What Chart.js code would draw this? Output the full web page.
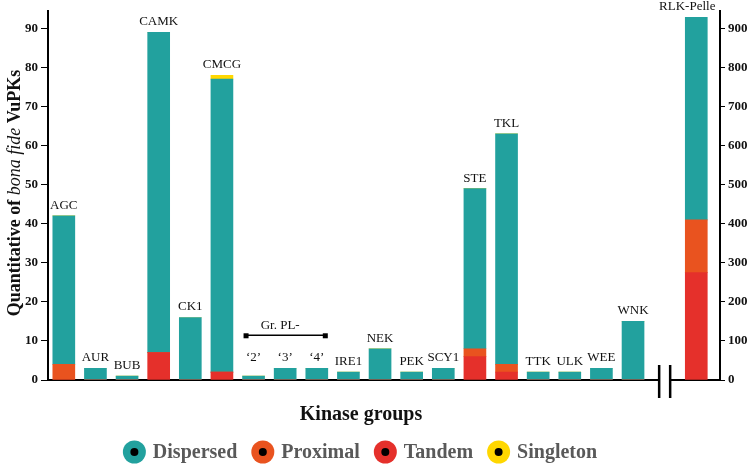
<!DOCTYPE html>
<html>
<head>
<meta charset="utf-8">
<script src="https://cdn.jsdelivr.net/npm/chart.js@4"></script>
<style>
  html, body { margin: 0; padding: 0; background: #fff; }
  #wrap { width: 751px; height: 468px; }
</style>
</head>
<body>
<div id="wrap"><canvas id="kinaseChart"></canvas></div>
<script>
// Grupos de quinasas (eje izquierdo)
const groups = ['AGC', 'AUR', 'BUB', 'CAMK', 'CK1', 'CMCG', '\u20182\u2019', '\u20183\u2019', '\u20184\u2019', 'IRE1',
  'NEK', 'PEK', 'SCY1', 'STE', 'TKL', 'TTK', 'ULK', 'WEE', 'WNK'];
const tandem    = [0, 0, 0, 7, 0, 2, 0, 0, 0, 0, 0, 0, 0, 6, 2, 0, 0, 0, 0];
const proximal  = [4, 0, 0, 0, 0, 0, 0, 0, 0, 0, 0, 0, 0, 2, 2, 0, 0, 0, 0];
const dispersed = [38, 3, 1, 82, 16, 75, 1, 3, 3, 2, 8, 2, 3, 41, 59, 2, 2, 3, 15];
const singleton = [0, 0, 0, 0, 0, 1, 0, 0, 0, 0, 0, 0, 0, 0, 0, 0, 0, 0, 0];

// RLK-Pelle (eje derecho)
const rlkLabel = 'RLK-Pelle';
const rlkTandem = 275;
const rlkProximal = 135;
const rlkDispersed = 518;

const leftTicks = [0, 10, 20, 30, 40, 50, 60, 70, 80, 90];
const rightTicks = [0, 100, 200, 300, 400, 500, 600, 700, 800, 900];

const seriesNames = ['Dispersed', 'Proximal', 'Tandem', 'Singleton'];
const colors = {
  Dispersed: '#22A19E',
  Proximal: '#E9531F',
  Tandem: '#E5302B',
  Singleton: '#FFD700'
};

const rlkIndex = groups.length + 1; // deja un hueco para el corte del eje
const breakIndex = groups.length;

const serif = "'Liberation Serif', 'Times New Roman', serif";

function toPoints(arr) {
  return arr.map((v, i) => ({ x: i, y: v }));
}

function ds(label, arr, axis) {
  return {
    label: label,
    data: arr,
    backgroundColor: colors[label],
    borderWidth: 0,
    barThickness: 22,
    grouped: false,
    yAxisID: axis,
    stack: axis
  };
}

const datasets = [
  ds('Tandem', toPoints(tandem), 'y'),
  ds('Proximal', toPoints(proximal), 'y'),
  ds('Dispersed', toPoints(dispersed), 'y'),
  ds('Singleton', toPoints(singleton), 'y'),
  ds('Tandem', [{ x: rlkIndex, y: rlkTandem }], 'y1'),
  ds('Proximal', [{ x: rlkIndex, y: rlkProximal }], 'y1'),
  ds('Dispersed', [{ x: rlkIndex, y: rlkDispersed }], 'y1')
];

// Textos, corchete, corte del eje, títulos y leyenda
const overlay = {
  id: 'overlay',
  afterDatasetsDraw(chart) {
    const ctx = chart.ctx;
    const xs = chart.scales.x, ys = chart.scales.y, y1 = chart.scales.y1;
    const area = chart.chartArea;
    ctx.save();
    ctx.fillStyle = '#111';
    ctx.font = '13px ' + serif;
    ctx.textAlign = 'center';
    ctx.textBaseline = 'alphabetic';

    // posición del texto de los grupos entre comillas (alineados)
    let quoteTop = Infinity;
    groups.forEach((g, i) => {
      if (g.startsWith('\u2018')) {
        const tot = tandem[i] + proximal[i] + dispersed[i] + singleton[i];
        quoteTop = Math.min(quoteTop, ys.getPixelForValue(tot));
      }
    });

    groups.forEach((g, i) => {
      const tot = tandem[i] + proximal[i] + dispersed[i] + singleton[i];
      let top = ys.getPixelForValue(tot);
      if (g.startsWith('\u2018')) top = quoteTop;
      ctx.fillText(g, xs.getPixelForValue(i), top - 7);
    });
    const rlkTop = y1.getPixelForValue(rlkTandem + rlkProximal + rlkDispersed);
    ctx.fillText(rlkLabel, xs.getPixelForValue(rlkIndex) - 9, rlkTop - 7);

    // corchete Gr. PL-
    const qIdx = groups.map((g, i) => g.startsWith('\u2018') ? i : -1).filter(i => i >= 0);
    const bx0 = xs.getPixelForValue(qIdx[0]) - 8;
    const bx1 = xs.getPixelForValue(qIdx[qIdx.length - 1]) + 8;
    const by = quoteTop - 33;
    ctx.strokeStyle = '#000';
    ctx.lineWidth = 1.5;
    ctx.beginPath();
    ctx.moveTo(bx0, by);
    ctx.lineTo(bx1, by);
    ctx.stroke();
    ctx.fillStyle = '#000';
    ctx.fillRect(bx0 - 2, by - 2, 5, 5);
    ctx.fillRect(bx1 - 2, by - 2, 5, 5);
    ctx.fillStyle = '#111';
    ctx.fillText('Gr. PL-', (bx0 + bx1) / 2 - 5, by - 6);

    // corte del eje x
    const cx = xs.getPixelForValue(breakIndex);
    ctx.fillStyle = '#fff';
    ctx.fillRect(cx - 5, area.bottom - 3, 10, 6);
    ctx.strokeStyle = '#000';
    ctx.lineWidth = 2.5;
    [cx - 5.5, cx + 5.5].forEach(px => {
      ctx.beginPath();
      ctx.moveTo(px, area.bottom - 15);
      ctx.lineTo(px, area.bottom + 18);
      ctx.stroke();
    });
    ctx.restore();
  },
  afterDraw(chart) {
    const ctx = chart.ctx;
    ctx.save();

    // título eje y con "bona fide" en cursiva
    const parts = [
      { t: 'Quantitative of ', f: 'bold 18px ' + serif },
      { t: 'bona fide', f: 'italic 18px ' + serif },
      { t: ' VuPKs', f: 'bold 18px ' + serif }
    ];
    let total = 0;
    parts.forEach(p => { ctx.font = p.f; p.w = ctx.measureText(p.t).width; total += p.w; });
    ctx.translate(20, 193);
    ctx.rotate(-Math.PI / 2);
    ctx.fillStyle = '#111';
    ctx.textBaseline = 'alphabetic';
    ctx.textAlign = 'left';
    let x = -total / 2;
    parts.forEach(p => { ctx.font = p.f; ctx.fillText(p.t, x, 0); x += p.w; });
    ctx.setTransform(1, 0, 0, 1, 0, 0);

    // título eje x
    ctx.font = 'bold 20px ' + serif;
    ctx.textAlign = 'center';
    ctx.textBaseline = 'middle';
    ctx.fillText('Kinase groups', 361, 415);

    // leyenda
    ctx.textAlign = 'left';
    ctx.font = 'bold 20px ' + serif;
    const gap = 14;
    const pad = 7;
    const r = 11.5;
    let w = 0;
    seriesNames.forEach(n => { w += 2 * r + pad + ctx.measureText(n).width; });
    w += gap * (seriesNames.length - 1);
    let lx = 360 - w / 2;
    const ly = 452;
    seriesNames.forEach(n => {
      ctx.fillStyle = colors[n];
      ctx.beginPath();
      ctx.arc(lx + r, ly, r, 0, Math.PI * 2);
      ctx.fill();
      ctx.fillStyle = '#000';
      ctx.beginPath();
      ctx.arc(lx + r, ly, 4, 0, Math.PI * 2);
      ctx.fill();
      ctx.fillStyle = '#595959';
      ctx.fillText(n, lx + 2 * r + pad, ly + 1);
      lx += 2 * r + pad + ctx.measureText(n).width + gap;
    });
    ctx.restore();
  }
};

function keepTicks(list) {
  return scale => {
    scale.ticks = scale.ticks.filter(t => list.includes(t.value));
  };
}

const config = {
  type: 'bar',
  data: { datasets: datasets },
  options: {
    responsive: true,
    maintainAspectRatio: false,
    animation: false,
    layout: { padding: { top: 10, bottom: 88, left: 0, right: 0 } },
    plugins: {
      legend: { display: false },
      tooltip: { enabled: false }
    },
    scales: {
      x: {
        type: 'linear',
        min: -0.5,
        max: rlkIndex + 0.75,
        offset: false,
        stacked: true,
        grid: { display: false, offset: false },
        ticks: { display: false },
        border: { display: true, color: '#000', width: 2 },
        afterFit: s => { s.height = 0; }
      },
      y: {
        position: 'left',
        stacked: true,
        min: 0,
        max: 94.5,
        ticks: {
          stepSize: 10,
          padding: 3,
          color: '#111',
          font: { family: serif, size: 13, weight: 'bold' }
        },
        afterBuildTicks: keepTicks(leftTicks),
        grid: { drawOnChartArea: false, tickLength: 7, color: '#000', lineWidth: 1 },
        border: { display: true, color: '#000', width: 2 },
        afterFit: s => { s.width = 48; }
      },
      y1: {
        position: 'right',
        stacked: true,
        min: 0,
        max: 945,
        ticks: {
          stepSize: 100,
          padding: 3,
          color: '#111',
          font: { family: serif, size: 13, weight: 'bold' }
        },
        afterBuildTicks: keepTicks(rightTicks),
        grid: { drawOnChartArea: false, tickLength: 5, color: '#000', lineWidth: 1 },
        border: { display: true, color: '#000', width: 2 },
        afterFit: s => { s.width = 31; }
      }
    }
  },
  plugins: [overlay]
};

const kinaseChart = new Chart(document.getElementById('kinaseChart'), config);
</script>
</body>
</html>
